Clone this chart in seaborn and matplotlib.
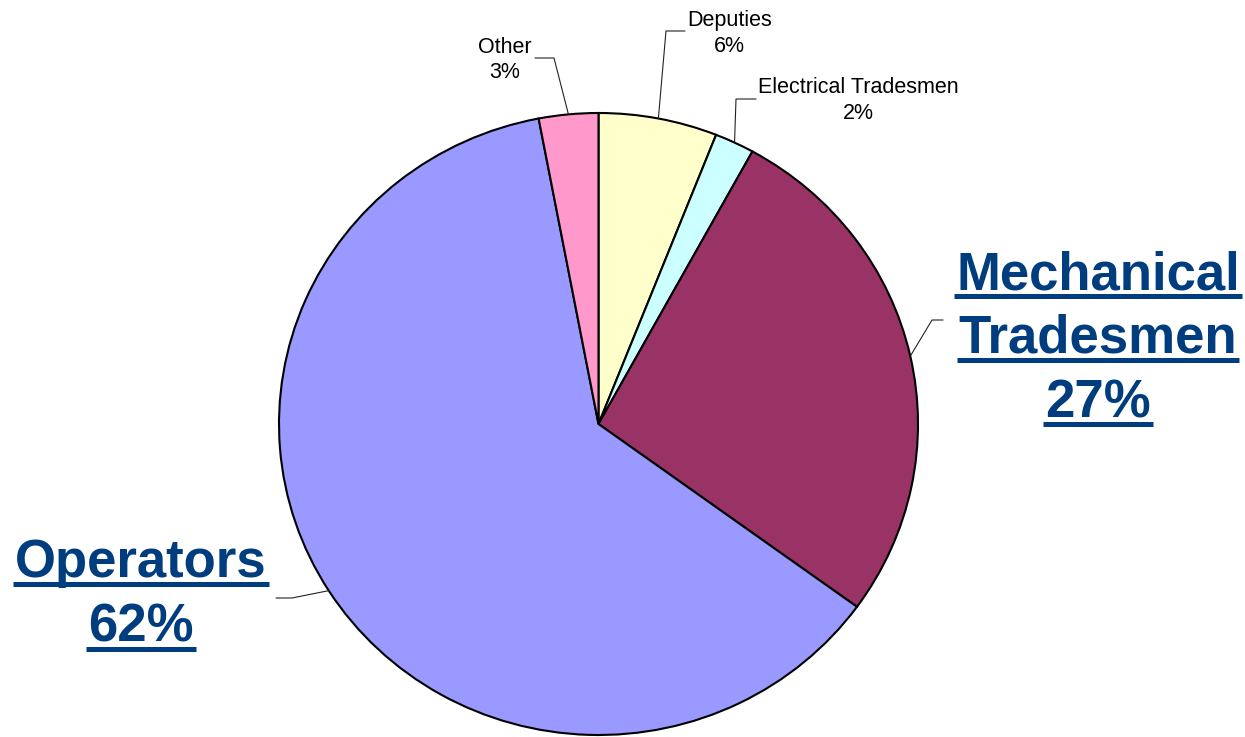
import numpy as np
import matplotlib
matplotlib.use("Agg")
import matplotlib.pyplot as plt
from matplotlib.lines import Line2D
import seaborn as sns

# Workforce split by role (percent)
categories = ["Deputies", "Electrical Tradesmen", "Mechanical Tradesmen", "Operators", "Other"]
shares = [6, 2, 27, 62, 3]
slice_colors = ["#FFFFCC", "#CCFFFF", "#993366", "#9999FF", "#FF99CC"]

sns.set_theme(style="white")
plt.rcParams["font.family"] = ["Liberation Sans", "DejaVu Sans"]

W, H = 1245, 737
fig = plt.figure(figsize=(W / 100, H / 100), dpi=100)
ax = fig.add_axes([0, 0, 1, 1])

wedges, _ = ax.pie(
    shares,
    colors=slice_colors,
    startangle=90,
    counterclock=False,
    radius=1.0,
    wedgeprops=dict(edgecolor="black", linewidth=1.5),
)

# Pie placement on the canvas (pixels): centre and semi-axes
cx, cy, rx, ry = 598.5, 424.0, 319.5, 311.0
ax.set_aspect("auto")
ax.set_xlim(-cx / rx, (W - cx) / rx)
ax.set_ylim(-(H - cy) / ry, cy / ry)
ax.axis("off")


def to_data(px, py):
    return (px - cx) / rx, (cy - py) / ry


# Label layout (pixels): text centre x, baselines, leader elbow and end
layout = {
    "Deputies": dict(x=729.5, base=[26, 52], elbow=(666, 31), end=(685, 31), big=False),
    "Electrical Tradesmen": dict(x=858.5, base=[93, 119], elbow=(736, 99), end=(756, 99), big=False),
    "Mechanical Tradesmen": dict(x=1098, base=[289, 353, 417], elbow=(932, 320), end=(943, 320), big=True),
    "Operators": dict(x=141, base=[577, 642], elbow=(292, 598), end=(276, 598), big=True),
    "Other": dict(x=505, base=[53, 78], elbow=(554, 58), end=(535, 58), big=False),
}

big_color = "#003d7e"
underlined = []

for wedge, name, share in zip(wedges, categories, shares):
    spec = layout[name]
    mid = np.deg2rad((wedge.theta1 + wedge.theta2) / 2)
    sx, sy = np.cos(mid), np.sin(mid)
    ex, ey = to_data(*spec["elbow"])
    tx, ty = to_data(*spec["end"])
    ax.plot([sx, ex, tx], [sy, ey, ty], color="#222222", lw=0.8, clip_on=False)

    if spec["big"]:
        lines = name.split() + [f"{share}%"]
        kw = dict(fontsize=38, fontweight="bold", color=big_color)
    else:
        lines = [name, f"{share}%"]
        kw = dict(fontsize=15.5, color="black")

    for line, b in zip(lines, spec["base"]):
        t = fig.text(spec["x"] / W, 1 - b / H, line, ha="center", va="baseline", **kw)
        if spec["big"]:
            underlined.append((t, b))

# Underline the highlighted labels using their rendered extents
fig.canvas.draw()
renderer = fig.canvas.get_renderer()
for t, b in underlined:
    bb = t.get_window_extent(renderer)
    yline = (H - b - 7) / H
    fig.add_artist(Line2D([(bb.x0 - 2) / W, (bb.x1 + 2) / W], [yline, yline],
                          transform=fig.transFigure, color=big_color, lw=3.6,
                          solid_capstyle="butt"))

fig.savefig("out.png", dpi=100, facecolor="white")
